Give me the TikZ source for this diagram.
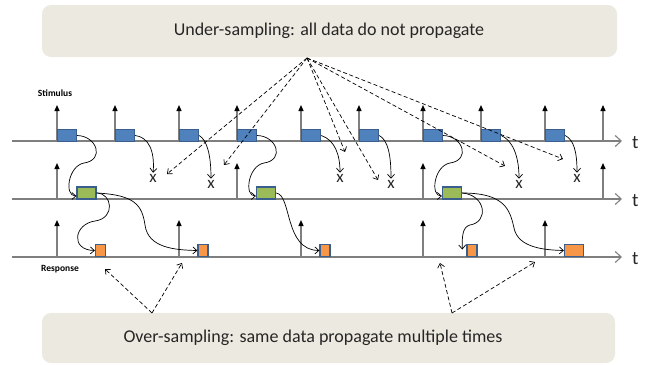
\documentclass[tikz,border=0pt]{standalone}
\usepackage{fontspec}
\setmainfont{Carlito}
\usetikzlibrary{arrows.meta}
\definecolor{bannerbg}{HTML}{ECE9E0}
\definecolor{boxblue}{HTML}{4F81BD}
\definecolor{boxborder}{HTML}{3A5F8F}
\definecolor{boxgreen}{HTML}{9BBB59}
\definecolor{boxorange}{HTML}{F79646}
\definecolor{axisgray}{HTML}{7F7F7F}
\begin{document}
\begin{tikzpicture}[x=1pt,y=-1pt,
 banner/.style={fill=bannerbg, rounded corners=9pt, inner sep=0pt},
 bannertext/.style={font=\fontsize{18}{20}\selectfont, text=black!85, inner sep=0pt},
 axis/.style={draw=axisgray, line width=1.4pt, -{Straight Barb[length=6pt,width=11pt,line width=1.1pt]}},
 tlabel/.style={font=\fontsize{19}{20}\selectfont, anchor=west, inner sep=0pt, text=black!85},
 stim/.style={draw=axisgray, line width=1.3pt, -{Triangle[length=6pt,width=5pt,color=black]}},
 databox/.style={draw=boxborder, line width=1.3pt, inner sep=0pt, minimum height=12pt},
 bluebox/.style={databox, fill=boxblue, minimum width=19pt},
 greenbox/.style={databox, fill=boxgreen, minimum width=19pt},
 orangebox/.style={databox, fill=boxorange, minimum width=10pt},
 flow/.style={draw=black, line width=0.7pt, -{Straight Barb[length=4pt,width=7pt]}},
 hint/.style={flow, dash pattern=on 4pt off 2.5pt},
 xmark/.style={font=\fontsize{17}{18}\selectfont, inner sep=0pt, text=black!85},
 sidelabel/.style={font=\bfseries\fontsize{9.5}{10}\selectfont, inner sep=0pt}
]
\useasboundingbox (0,0) rectangle (661,364);

% banners
\node[banner, minimum width=575pt, minimum height=52pt] (top) at (329.5,31) {};
\node[bannertext] (toplbl) at (329,31) {Under-sampling: all data do not propagate};
\node[banner, minimum width=573pt, minimum height=50pt] (bot) at (328.5,338) {};
\node[bannertext] (botlbl) at (313,338) {Over-sampling: same data propagate multiple times};

% time axes
\coordinate (a1s) at (12,141); \coordinate (a1e) at (622,141);
\coordinate (a2s) at (12,199); \coordinate (a2e) at (622,199);
\coordinate (a3s) at (12,257); \coordinate (a3e) at (622,257);
\draw[axis] (a1s) -- (a1e);
\draw[axis] (a2s) -- (a2e);
\draw[axis] (a3s) -- (a3e);
\node[tlabel] (t1) at (632,143) {t};
\node[tlabel] (t2) at (632,201) {t};
\node[tlabel] (t3) at (632,259) {t};

% sampling ticks
\foreach \x in {57,115,179,237,301,359,423,481,545,603} \draw[stim] (\x,141) -- (\x,105);
\foreach \x in {57,237,423,603} \draw[stim] (\x,199) -- (\x,163);
\foreach \x in {57,179,301,423,545} \draw[stim] (\x,257) -- (\x,220);

\node[sidelabel] (stimlbl) at (55,93) {Stimulus};
\node[sidelabel] (resplbl) at (60,269) {Response};

% data boxes
\node[bluebox] (b1) at (67,135.5) {};
\node[bluebox] (b2) at (125,135.5) {};
\node[bluebox] (b3) at (189,135.5) {};
\node[bluebox] (b4) at (247,135.5) {};
\node[bluebox] (b5) at (311,135.5) {};
\node[bluebox] (b6) at (369,135.5) {};
\node[bluebox] (b7) at (433,135.5) {};
\node[bluebox] (b8) at (491,135.5) {};
\node[bluebox] (b9) at (555,135.5) {};

\node[greenbox] (g1) at (86.5,193) {};
\node[greenbox] (g2) at (266,193) {};
\node[greenbox] (g3) at (452,193) {};

\node[orangebox] (o1) at (100.5,250.5) {};
\node[orangebox] (o2) at (203,250.5) {};
\node[orangebox] (o3) at (325,250.5) {};
\node[orangebox] (o4) at (472,250.5) {};
\node[orangebox, minimum width=19pt] (o5) at (574,250.5) {};

% lost samples
\node[xmark] (x1) at (153,178) {x};
\node[xmark] (x2) at (211,184) {x};
\node[xmark] (x3) at (340,178) {x};
\node[xmark] (x4) at (391,184) {x};
\node[xmark] (x5) at (519,184) {x};
\node[xmark] (x6) at (577,178) {x};

% propagation stimulus -> intermediate
\draw[flow] (b1.east) .. controls (97,136) and (105,160) .. (84,163) .. controls (68,166) and (64,196) .. ([yshift=-3pt]g1.west);
\draw[flow] (b4.east) .. controls (277,136) and (285,160) .. (264,163) .. controls (248,166) and (244,196) .. ([yshift=-3pt]g2.west);
\draw[flow] (b7.east) .. controls (463,136) and (471,160) .. (450,163) .. controls (434,166) and (430,196) .. ([yshift=-3pt]g3.west);

\draw[flow, shorten >=1pt] (b2.east) .. controls (148,137) and (155,150) .. (x1.north);
\draw[flow, shorten >=1pt] (b3.east) .. controls (207,140) and (211,155) .. (x2.north);
\draw[flow, shorten >=1pt] (b5.east) .. controls (335,140) and (340,155) .. (x3.north);
\draw[flow, shorten >=1pt] (b6.east) .. controls (388,140) and (391,155) .. (x4.north);
\draw[flow, shorten >=1pt] (b8.east) .. controls (512,140) and (519,155) .. (x5.north);
\draw[flow, shorten >=1pt] (b9.east) .. controls (574,140) and (577,152) .. (x6.north);

% propagation intermediate -> response
\draw[flow] (g1.east) .. controls (112,193) and (116,218) .. (95,221) .. controls (74,224) and (70,250) .. (o1.west);
\draw[flow] (g1.east) .. controls (135,195) and (142,205) .. (145,225) .. controls (148,248) and (175,250) .. (o2.west);
\draw[flow] (g2.east) .. controls (292,195) and (284,250) .. (o3.west);
\draw[flow] (g3.east) .. controls (486,195) and (489,222) .. (470,225) .. controls (462,227) and (462,238) .. ([xshift=-4pt,yshift=1pt]o4.west);
\draw[flow] (g3.east) .. controls (505,193) and (510,210) .. (514,228) .. controls (518,248) and (545,250) .. (o5.west);

% under-sampling hints
\coordinate (us) at (307,58);
\coordinate (d1) at (167,174);
\coordinate (d2) at (224,165);
\coordinate (d3) at (345,152);
\coordinate (d4) at (378,180);
\coordinate (d5) at (505,166);
\coordinate (d6) at (563,159);
\foreach \d in {d1,d2,d3,d4,d5,d6} \draw[hint] (us) -- (\d);

% over-sampling hints
\coordinate (os1) at (152,313);
\coordinate (os2) at (452,313);
\coordinate (e1) at (105,269);
\coordinate (e2) at (182,263);
\coordinate (e3) at (440,263);
\coordinate (e4) at (535,262);
\draw[hint] (os1) -- (e1);
\draw[hint] (os1) -- (e2);
\draw[hint] (os2) -- (e3);
\draw[hint] (os2) -- (e4);
\end{tikzpicture}
\end{document}
